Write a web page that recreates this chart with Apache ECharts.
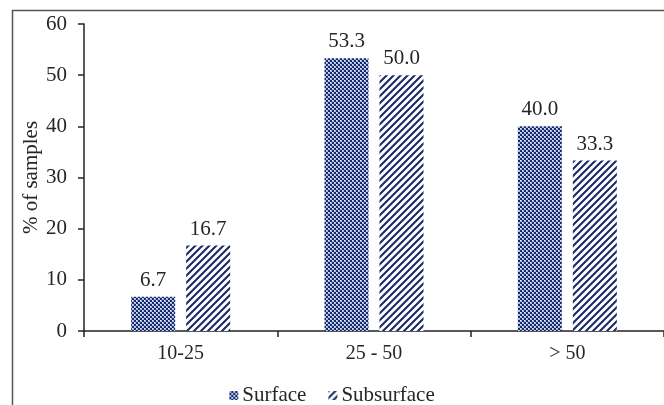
<!DOCTYPE html>
<html>
<head>
<meta charset="utf-8">
<style>
  html, body { margin: 0; padding: 0; background: #fff; }
  #chart { width: 664px; height: 405px; }
</style>
<script src="https://cdn.jsdelivr.net/npm/echarts@6/dist/echarts.min.js"></script>
</head>
<body>
<div id="chart"></div>
<script>
// Depth classes and share of samples (%)
const categories = ['10-25', '25 - 50', '> 50'];
const surfaceValues = [6.7, 53.3, 40.0];
const subsurfaceValues = [16.7, 50.0, 33.3];
const yTicks = [0, 10, 20, 30, 40, 50, 60];

const NAVY = '#1b2b66';
const FONT = '"Liberation Serif", "Times New Roman", serif';
const TEXT = '#262626';

// Dotted checker fill for surface samples
function dotPattern() {
  const c = document.createElement('canvas');
  c.width = 4; c.height = 4;
  const g = c.getContext('2d');
  g.fillStyle = NAVY;
  g.fillRect(0, 0, 4, 4);
  g.fillStyle = '#a7b8e6';
  g.fillRect(0, 0, 2, 2);
  g.fillRect(2, 2, 2, 2);
  g.fillStyle = '#dfe7fa';
  g.fillRect(0, 0, 1, 1);
  g.fillRect(2, 2, 1, 1);
  return c;
}

// Diagonal hatch fill for subsurface samples
function hatchPattern() {
  const s = 7;
  const c = document.createElement('canvas');
  c.width = s; c.height = s;
  const g = c.getContext('2d');
  g.fillStyle = '#ffffff';
  g.fillRect(0, 0, s, s);
  g.strokeStyle = NAVY;
  g.lineWidth = 2.1;
  g.beginPath();
  g.moveTo(-2, s + 2); g.lineTo(s + 2, -2);
  g.moveTo(-2, 2); g.lineTo(2, -2);
  g.moveTo(s - 2, s + 2); g.lineTo(s + 2, s - 2);
  g.stroke();
  return c;
}

const chart = echarts.init(document.getElementById('chart'), null, { renderer: 'canvas' });

const labelStyle = {
  show: true,
  position: 'top',
  distance: 6,
  fontFamily: FONT,
  fontSize: 21,
  color: TEXT,
  formatter: p => p.value.toFixed(1)
};

chart.setOption({
  animation: false,
  backgroundColor: '#fff',
  grid: { left: 84, top: 24, width: 583, bottom: 74, containLabel: false },
  legend: {
    top: 380,
    left: 'center',
    itemWidth: 9,
    itemHeight: 9,
    itemGap: 22,
    icon: 'rect',
    textStyle: { fontFamily: FONT, fontSize: 21, color: TEXT, padding: [0, 0, 0, -1] },
    data: ['Surface', 'Subsurface']
  },
  xAxis: {
    type: 'category',
    data: categories,
    axisLine: { lineStyle: { color: '#222', width: 1.5 } },
    axisTick: { show: true, length: 6, lineStyle: { color: '#222', width: 1.5 } },
    axisLabel: { fontFamily: FONT, fontSize: 20, color: TEXT, margin: 13 }
  },
  yAxis: {
    type: 'value',
    min: yTicks[0],
    max: yTicks[yTicks.length - 1],
    interval: 10,
    name: '% of samples',
    nameLocation: 'middle',
    nameGap: 42,
    nameMoveOverlap: false,
    nameTextStyle: { fontFamily: FONT, fontSize: 21, color: TEXT },
    axisLine: { show: true, lineStyle: { color: '#222', width: 1.5 } },
    axisTick: { show: true, length: 6, lineStyle: { color: '#222', width: 1.5 } },
    axisLabel: { fontFamily: FONT, fontSize: 21, color: TEXT, margin: 17 },
    splitLine: { show: false }
  },
  series: [
    {
      name: 'Surface',
      type: 'bar',
      data: surfaceValues,
      barWidth: 44,
      barGap: '25%',
      itemStyle: { color: { image: dotPattern(), repeat: 'repeat' } },
      label: labelStyle
    },
    {
      name: 'Subsurface',
      type: 'bar',
      data: subsurfaceValues,
      barWidth: 44,
      itemStyle: { color: { image: hatchPattern(), repeat: 'repeat' } },
      label: labelStyle
    }
  ],
  graphic: [
    {
      type: 'polyline',
      shape: { points: [[12.5, 405], [12.5, 10.5], [664, 10.5]] },
      style: { stroke: '#555', lineWidth: 1.5, fill: null },
      silent: true
    }
  ]
});
</script>
</body>
</html>
